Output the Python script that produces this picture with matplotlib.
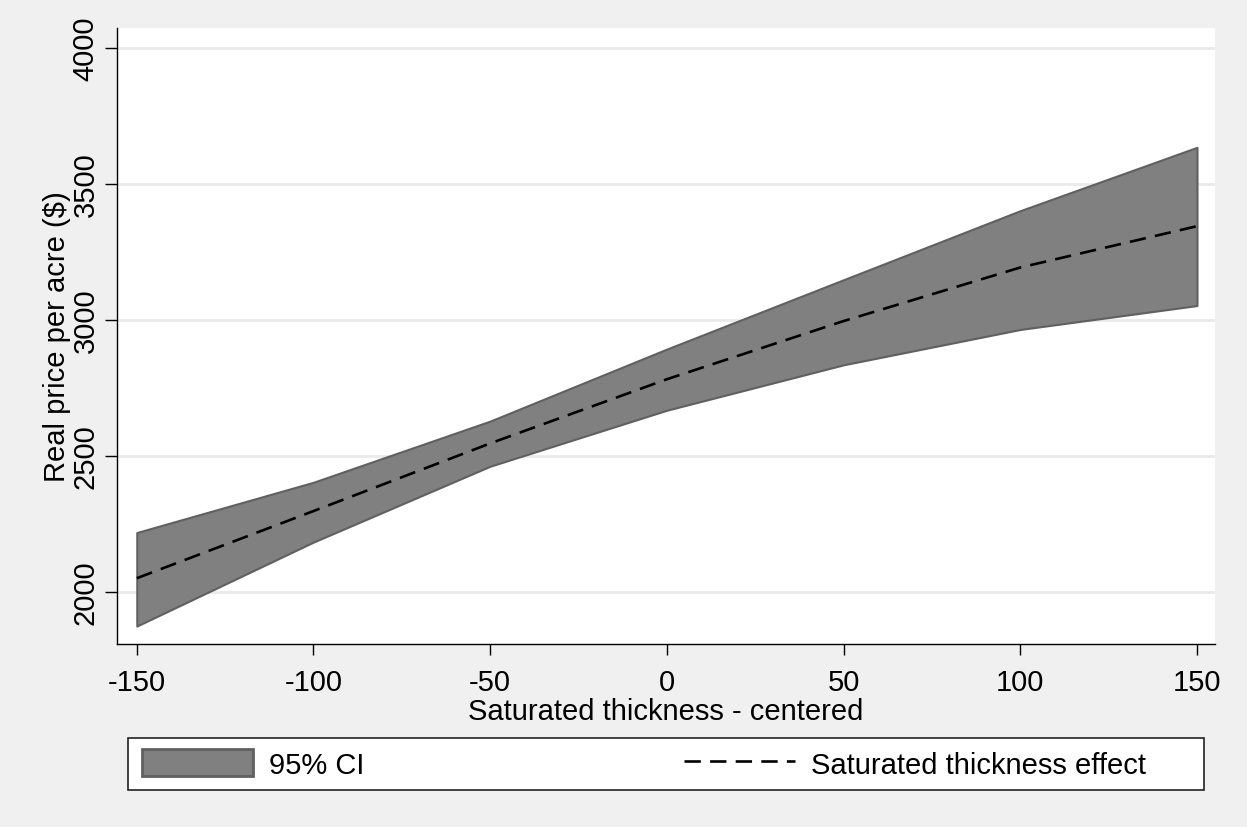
import matplotlib
matplotlib.use("Agg")
import matplotlib.pyplot as plt
from matplotlib.patches import Patch, Rectangle
from matplotlib.lines import Line2D

# Data
thickness = [-150, -100, -50, 0, 50, 100, 150]
effect = [2050, 2297, 2546, 2782, 2996, 3193, 3345]
ci_upper = [2218, 2403, 2628, 2893, 3148, 3402, 3635]
ci_lower = [1874, 2183, 2462, 2668, 2835, 2965, 3053]
x_ticks = [-150, -100, -50, 0, 50, 100, 150]
y_ticks = [2000, 2500, 3000, 3500, 4000]
x_label = "Saturated thickness - centered"
y_label = "Real price per acre ($)"
legend_labels = ["95% CI", "Saturated thickness effect"]

plt.rcParams['font.family'] = ['Liberation Sans', 'DejaVu Sans']
FS = 21
W, H = 1247, 828
BG = '#f0f0f0'

fig = plt.figure(figsize=(W / 100, H / 100), dpi=100, facecolor=BG)

def px(x0, y0, x1, y1):
    return [x0 / W, 1 - y1 / H, (x1 - x0) / W, (y1 - y0) / H]

ax = fig.add_axes(px(117, 29, 1215, 645))
ax.set_facecolor('white')

ax.fill_between(thickness, ci_lower, ci_upper, facecolor='#808080',
                edgecolor='#606060', linewidth=1.5, zorder=2)
ax.plot(thickness, effect, color='black', linewidth=1.9,
        linestyle=(0, (6.2, 3.5)), zorder=3)

ax.set_xlim(-155.6, 155.1)
ax.set_ylim(1808, 4074)
ax.set_xticks(x_ticks)
ax.set_yticks(y_ticks)
ax.set_xticklabels([str(v) for v in x_ticks])
ax.set_yticklabels([str(v) for v in y_ticks], rotation=90, va='center')

ax.grid(axis='y', color='#eaeaea', linewidth=2.0, zorder=0)
ax.set_axisbelow(True)

for s in ['top', 'right']:
    ax.spines[s].set_visible(False)
for s in ['left', 'bottom']:
    ax.spines[s].set_linewidth(1.0)
    ax.spines[s].set_color('black')

ax.tick_params(axis='x', length=8.2, width=1.0, pad=9.2, labelsize=FS, colors='black')
ax.tick_params(axis='y', length=8.6, width=1.0, pad=4.0, labelsize=FS, colors='black')

ax.set_xlabel(x_label, fontsize=FS, labelpad=0.5)
ax.set_ylabel(y_label, fontsize=FS, labelpad=0.5)

# Legend frame
frame = Rectangle((128 / W, 1 - 791 / H), (1204 - 128) / W, (791 - 739) / H,
                  transform=fig.transFigure, facecolor='white',
                  edgecolor='#222222', linewidth=1.2, zorder=1)
fig.patches.append(frame)

handles = [Patch(facecolor='#808080', edgecolor='#606060', linewidth=2.0),
           Line2D([0], [0], color='black', linewidth=1.9, linestyle=(0, (6.2, 3.5)))]
leg = fig.legend(handles, legend_labels, loc='center left',
                 bbox_to_anchor=(142 / W, 1 - 791 / H, (1146 - 142) / W, (791 - 739) / H),
                 mode='expand', ncol=2, frameon=False, fontsize=FS,
                 borderpad=0.0, borderaxespad=0.0, handlelength=3.8,
                 handleheight=1.0, handletextpad=0.55, columnspacing=1.0)

fig.savefig('out.png', dpi=100, facecolor=BG)
